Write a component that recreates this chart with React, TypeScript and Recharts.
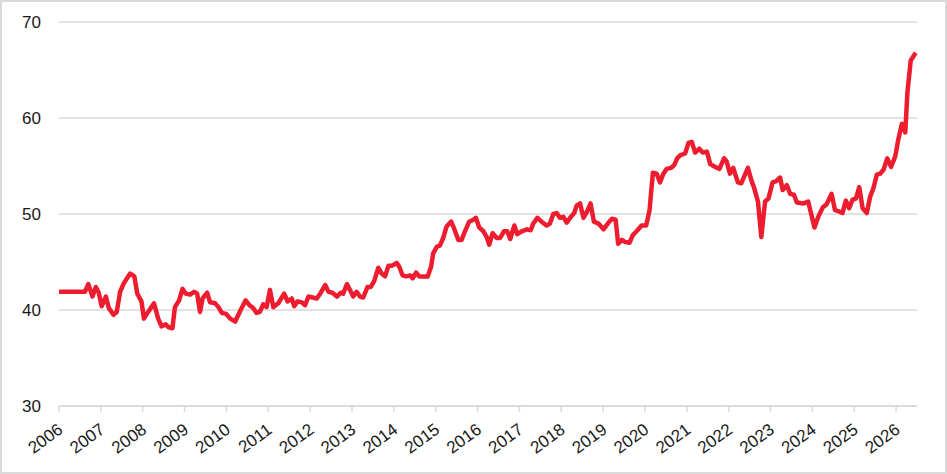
import React from 'react';
import { LineChart, Line, XAxis, YAxis, CartesianGrid } from 'recharts';

const dates = [
  2006.00, 2006.62, 2006.70, 2006.80, 2006.88, 2006.95, 2007.02, 2007.12, 2007.19, 2007.30,
  2007.38, 2007.46, 2007.55, 2007.70, 2007.80, 2007.87, 2007.97, 2008.03, 2008.13, 2008.27,
  2008.37, 2008.45, 2008.55, 2008.62, 2008.71, 2008.77, 2008.87, 2008.95, 2009.03, 2009.13,
  2009.23, 2009.30, 2009.37, 2009.43, 2009.54, 2009.61, 2009.73, 2009.81, 2009.89, 2009.99,
  2010.09, 2010.21, 2010.34, 2010.46, 2010.55, 2010.64, 2010.72, 2010.80, 2010.88, 2010.96,
  2011.04, 2011.12, 2011.24, 2011.38, 2011.46, 2011.56, 2011.62, 2011.70, 2011.80, 2011.88,
  2011.96, 2012.16, 2012.24, 2012.36, 2012.44, 2012.53, 2012.64, 2012.73, 2012.79, 2012.88,
  2012.95, 2013.03, 2013.11, 2013.19, 2013.27, 2013.37, 2013.45, 2013.53, 2013.63, 2013.71,
  2013.79, 2013.87, 2013.95, 2014.07, 2014.13, 2014.21, 2014.29, 2014.39, 2014.45, 2014.53,
  2014.61, 2014.71, 2014.81, 2014.89, 2014.94, 2015.03, 2015.10, 2015.18, 2015.26, 2015.37,
  2015.44, 2015.54, 2015.62, 2015.70, 2015.80, 2015.90, 2015.96, 2016.04, 2016.14, 2016.22,
  2016.28, 2016.36, 2016.46, 2016.54, 2016.63, 2016.71, 2016.78, 2016.88, 2016.95, 2017.06,
  2017.18, 2017.27, 2017.33, 2017.43, 2017.53, 2017.65, 2017.73, 2017.81, 2017.89, 2017.97,
  2018.05, 2018.13, 2018.23, 2018.31, 2018.37, 2018.45, 2018.53, 2018.61, 2018.70, 2018.78,
  2018.89, 2019.01, 2019.13, 2019.21, 2019.30, 2019.36, 2019.45, 2019.52, 2019.63, 2019.71,
  2019.80, 2019.92, 2020.03, 2020.11, 2020.19, 2020.28, 2020.36, 2020.44, 2020.52, 2020.62,
  2020.70, 2020.77, 2020.84, 2020.96, 2021.04, 2021.12, 2021.20, 2021.30, 2021.38, 2021.48,
  2021.56, 2021.68, 2021.78, 2021.89, 2021.95, 2022.03, 2022.11, 2022.22, 2022.30, 2022.46,
  2022.55, 2022.61, 2022.70, 2022.78, 2022.87, 2022.95, 2023.05, 2023.13, 2023.23, 2023.29,
  2023.39, 2023.47, 2023.56, 2023.63, 2023.79, 2023.90, 2024.05, 2024.14, 2024.25, 2024.34,
  2024.46, 2024.54, 2024.62, 2024.72, 2024.80, 2024.88, 2024.96, 2025.04, 2025.12, 2025.20,
  2025.30, 2025.38, 2025.46, 2025.54, 2025.62, 2025.70, 2025.79, 2025.88, 2025.98, 2026.06,
  2026.14, 2026.22, 2026.27, 2026.35, 2026.47,
];

const values = [
  41.9, 41.9, 42.7, 41.4, 42.4, 41.8, 40.4, 41.4, 40.2, 39.5,
  39.8, 41.9, 42.8, 43.8, 43.5, 41.7, 40.9, 39.1, 39.8, 40.7,
  39.1, 38.3, 38.5, 38.2, 38.1, 40.3, 41.0, 42.2, 41.7, 41.6,
  41.9, 41.7, 39.8, 41.2, 41.8, 40.8, 40.7, 40.3, 39.7, 39.6,
  39.1, 38.8, 40.0, 41.0, 40.5, 40.2, 39.7, 39.8, 40.6, 40.3,
  42.1, 40.3, 40.7, 41.7, 40.9, 41.2, 40.4, 40.9, 40.8, 40.5,
  41.4, 41.2, 41.7, 42.6, 41.9, 41.8, 41.4, 41.8, 41.7, 42.7,
  42.1, 41.4, 41.9, 41.4, 41.3, 42.4, 42.4, 43.0, 44.4, 43.8,
  43.5, 44.6, 44.6, 44.9, 44.5, 43.6, 43.5, 43.6, 43.3, 43.9,
  43.5, 43.5, 43.5, 44.5, 45.9, 46.6, 46.7, 47.5, 48.7, 49.2,
  48.5, 47.3, 47.3, 48.2, 49.2, 49.4, 49.6, 48.6, 48.2, 47.6,
  46.8, 48.0, 47.5, 47.5, 48.2, 48.2, 47.4, 48.8, 47.9, 48.2,
  48.4, 48.3, 49.0, 49.6, 49.2, 48.8, 49.0, 50.0, 50.1, 49.6,
  49.7, 49.1, 49.7, 50.1, 50.9, 51.1, 49.6, 50.2, 51.1, 49.2,
  49.0, 48.4, 49.1, 49.5, 49.4, 46.9, 47.3, 47.1, 47.0, 47.8,
  48.2, 48.8, 48.8, 50.4, 54.3, 54.2, 53.3, 54.2, 54.7, 54.8,
  55.1, 55.8, 56.1, 56.3, 57.4, 57.5, 56.4, 56.8, 56.4, 56.5,
  55.2, 54.9, 54.7, 55.8, 55.5, 54.2, 54.8, 53.3, 53.2, 54.8,
  53.4, 52.7, 51.3, 47.6, 51.3, 51.6, 53.3, 53.4, 53.8, 52.5,
  53.0, 52.1, 52.0, 51.2, 51.1, 51.3, 48.6, 49.7, 50.7, 51.0,
  52.1, 50.4, 50.3, 50.1, 51.4, 50.6, 51.5, 51.6, 52.8, 50.6,
  50.1, 51.8, 52.7, 54.1, 54.2, 54.6, 55.8, 54.9, 56.0, 57.9,
  59.4, 58.5, 62.6, 66.0, 66.8,
];

const yearTicks = [
  2006, 2007, 2008, 2009, 2010, 2011, 2012, 2013, 2014, 2015, 2016,
  2017, 2018, 2019, 2020, 2021, 2022, 2023, 2024, 2025, 2026,
];
const valueTicks = [30, 40, 50, 60, 70];

const data = dates.map((t, i) => ({ t, v: values[i] }));

const FONT = '"Liberation Sans", Arial, sans-serif';

const XTick = (props: any) => {
  const { x, y, payload } = props;
  return (
    <g transform={`translate(${x + 5},${y + 18}) rotate(-36)`}>
      <text x={0} y={0} textAnchor="end" fill="#1a1a1a" fontSize={17} fontFamily={FONT}>
        {payload.value}
      </text>
    </g>
  );
};

export default function App() {
  return (
    <div
      style={{
        position: 'absolute',
        left: 0,
        top: 0,
        width: 947,
        height: 474,
        boxSizing: 'border-box',
        border: '2px solid #dadada',
        background: '#fff',
      }}
    >
      <LineChart
        width={943}
        height={470}
        data={data}
        margin={{ top: 20, right: 28, left: 0, bottom: 0 }}
      >
        <CartesianGrid vertical={false} stroke="#d9d9d9" strokeWidth={1.5} />
        <XAxis
          dataKey="t"
          type="number"
          domain={[2006, 2026.5]}
          ticks={yearTicks}
          interval={0}
          height={66}
          axisLine={{ stroke: '#d9d9d9', strokeWidth: 1.5 }}
          tickLine={{ stroke: '#d9d9d9', strokeWidth: 1.5 }}
          tickSize={6}
          tick={<XTick />}
        />
        <YAxis
          type="number"
          domain={[30, 70]}
          ticks={valueTicks}
          width={57}
          axisLine={false}
          tickLine={false}
          tickSize={6}
          tickMargin={12}
          tick={{ fill: '#1a1a1a', fontSize: 17, fontFamily: FONT }}
        />
        <Line
          type="linear"
          dataKey="v"
          stroke="#ed1c2e"
          strokeWidth={4.5}
          dot={false}
          isAnimationActive={false}
          strokeLinejoin="round"
        />
      </LineChart>
    </div>
  );
}
